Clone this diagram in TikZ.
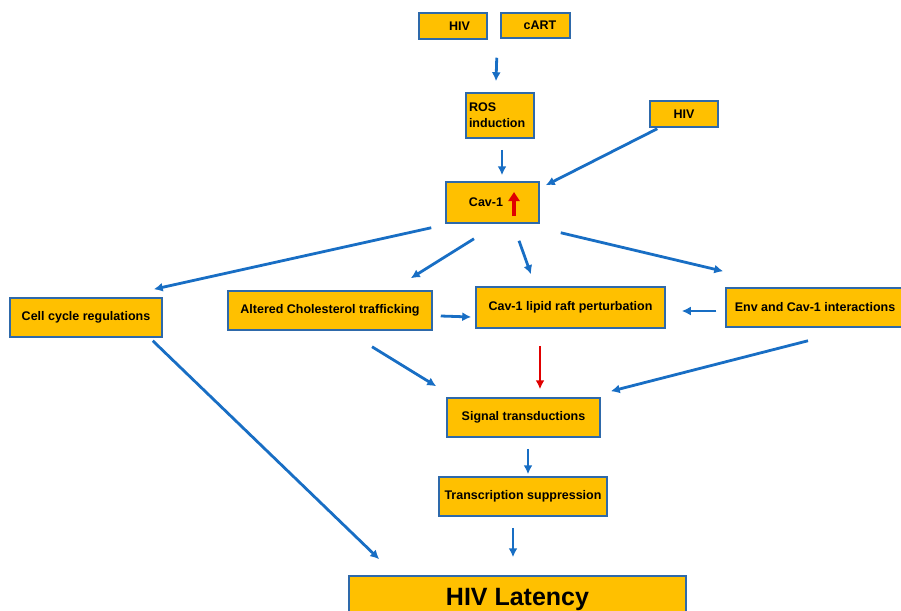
\documentclass[tikz,border=0pt]{standalone}
\usepackage{fontspec}
\setmainfont{Liberation Sans}
\usepackage{tikz}
\usetikzlibrary{arrows.meta}
\usetikzlibrary{calc,positioning}
\definecolor{boxfill}{RGB}{255,192,0}
\definecolor{boxline}{RGB}{46,105,170}
\definecolor{flowblue}{RGB}{24,110,196}
\definecolor{flowred}{RGB}{224,0,0}
\tikzset{%
  >={Latex[width=9pt,length=9pt]},
  % Specifications for style of nodes:
  base/.style = {rectangle, draw=boxline, line width=1.5pt, fill=boxfill,
    minimum height=39pt, inner sep=3pt,
    text centered, font=\fontsize{12.5}{16}\selectfont\bfseries},
  flow/.style = {->, draw=flowblue, line width=2.8pt},
  redflow/.style = {->, draw=flowred, line width=2.2pt},
  rise/.style = {-{Triangle[width=11pt,length=9pt]}, draw=flowred, line width=3.5pt},
}

\begin{document}
\begin{tikzpicture}[x=1pt, y=-1pt]
        \useasboundingbox (0,0) rectangle (901,610);
        % Specification of nodes (position, etc.)
        \node(HivA)[base,minimum width=68pt,minimum height=26pt] at (453,26) {\kern13pt HIV};
        \node(Cart)[base,minimum width=69pt,minimum height=25pt] at (535.5,25.5) {\kern9pt cART};
        \node(Ros)[base,minimum width=68pt,minimum height=45pt,text width=62pt,align=left] at (500,115.5) {ROS\\induction};
        \node(HivB)[base,minimum width=68pt,minimum height=26pt] at (684,114) {HIV};
        \node(Cav)[base,minimum width=93pt,minimum height=41pt] at (492.5,202.5) {Cav-1\kern13pt};
        \node(Cell)[base,minimum width=152pt] at (86,317.5) {Cell cycle regulations};
        \node(Chol)[base,minimum width=204pt] at (330,310.5) {Altered Cholesterol trafficking};
        \node(Raft)[base,minimum width=189pt,minimum height=41pt] at (570.5,307.5) {Cav-1 lipid raft perturbation};
        \node(Env)[base,minimum width=178pt] at (815,307.5) {Env and Cav-1 interactions};
        \node(Signal)[base,minimum width=153pt] at (523.5,417.5) {Signal transductions};
        \node(Transc)[base,minimum width=168pt] at (523,496.5) {Transcription suppression};
        \node(Latency)[base,minimum width=337pt,minimum height=46pt,
          font=\fontsize{25}{30}\selectfont\bfseries] at (517.5,599) {HIV Latency};
        % up arrow inside Cav-1
        \draw[rise] ([xshift=21.5pt,yshift=-13.5pt]Cav.center) -- ++(0,-24);
        % connectors
        \draw[flow] ([xshift=9pt,yshift=-18pt]HivA.south east) -- ([xshift=-4pt,yshift=11pt]Ros.north);
        \draw[flow] ([xshift=2pt,yshift=-11pt]Ros.south) -- ([xshift=9.5pt,yshift=6pt]Cav.north);
        \draw[flow] ([xshift=8pt,yshift=-1pt]HivB.south west) -- ([xshift=6pt,yshift=-4pt]Cav.north east);
        \draw[flow] ([xshift=-14pt,yshift=-4pt]Cav.south west) -- ([xshift=-9pt,yshift=8pt]Cell.north east);
        \draw[flow] ([xshift=-18.5pt,yshift=-15pt]Cav.south) -- ([xshift=-22pt,yshift=12pt]Chol.north east);
        \draw[flow] ([xshift=26.5pt,yshift=-17pt]Cav.south) -- ([xshift=-39.5pt,yshift=12pt]Raft.north);
        \draw[flow] ([xshift=21pt,yshift=-9pt]Cav.south east) -- ([xshift=-2pt,yshift=16pt]Env.north west);
        \draw[flow] ([xshift=8pt,yshift=-5.5pt]Chol.east) -- ([xshift=-4pt,yshift=-9.5pt]Raft.west);
        \draw[flow] ([xshift=-9pt,yshift=-3.5pt]Env.west) -- ([xshift=16pt,yshift=-3.5pt]Raft.east);
        \draw[flow] ([xshift=42pt,yshift=-16pt]Chol.south) -- ([xshift=-10pt,yshift=11pt]Signal.north west);
        \draw[redflow] ([xshift=-30.5pt,yshift=-17pt]Raft.south) -- ([xshift=16.5pt,yshift=8pt]Signal.north);
        \draw[flow] ([xshift=-7pt,yshift=-13pt]Env.south) -- ([xshift=10pt,yshift=6pt]Signal.north east);
        \draw[flow] ([xshift=4.5pt,yshift=-11pt]Signal.south) -- ([xshift=5pt,yshift=2pt]Transc.north);
        \draw[flow] ([xshift=-10pt,yshift=-11pt]Transc.south) -- ([xshift=-4.5pt,yshift=18pt]Latency.north);
        \draw[flow] ([xshift=-10pt,yshift=-3pt]Cell.south east) -- ([xshift=31pt,yshift=16pt]Latency.north west);
\end{tikzpicture}
\end{document}
